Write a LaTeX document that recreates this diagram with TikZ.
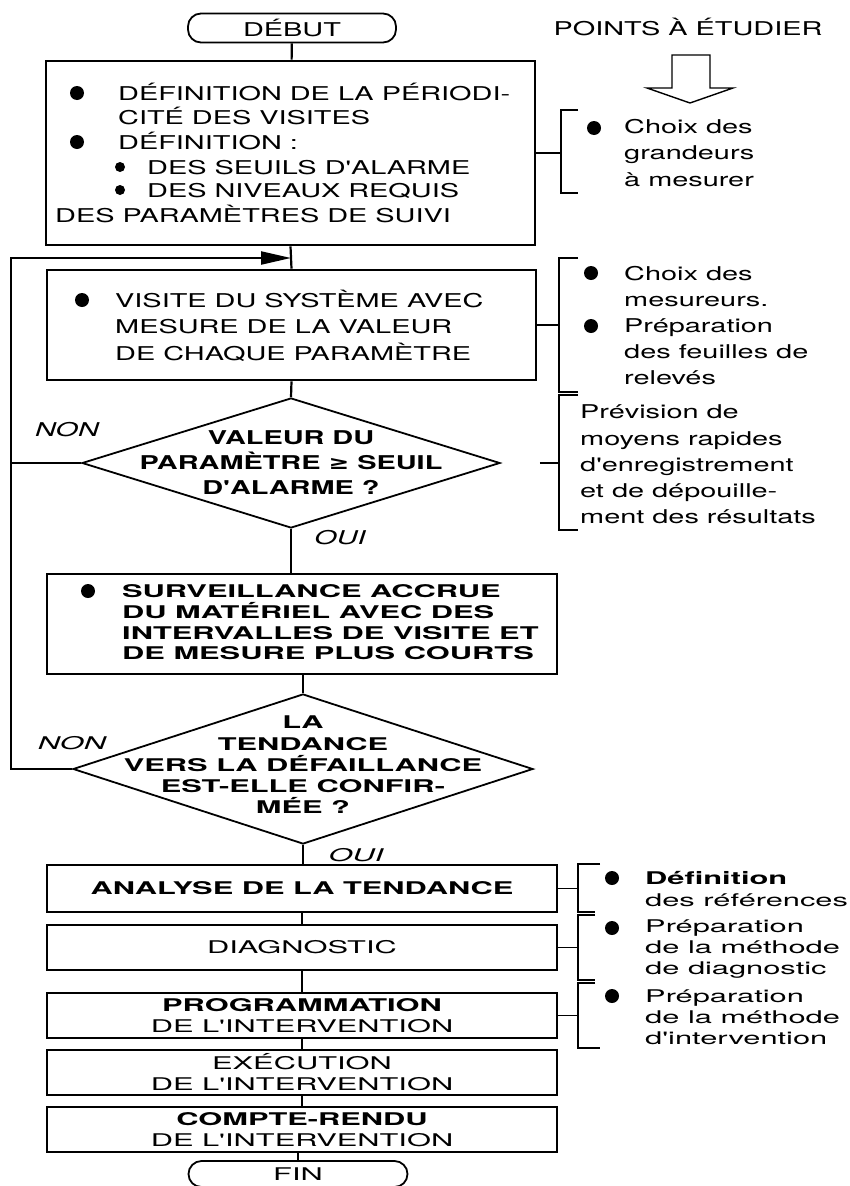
\documentclass[tikz,border=0pt]{standalone}
\usepackage{fontspec}
\usepackage{tikz}
\newfontfamily\topfont{TeX Gyre Heros}[FakeStretch=1.52]
\newfontfamily\lowfont{TeX Gyre Heros}[FakeStretch=1.76]
\newfontfamily\geqfont{DejaVu Sans}[FakeStretch=1.3]
\newcommand\toptxt{\topfont\fontsize{19}{25}\selectfont}
\newcommand\sidetxt{\topfont\fontsize{19}{26.2}\selectfont}
\newcommand\lowtxt{\lowfont\fontsize{17.5}{21.2}\selectfont}
\usetikzlibrary{shapes.geometric,arrows.meta}
\tikzset{
	box/.style={draw, line width=2.6pt, inner sep=0pt},
	decision/.style={diamond, draw, line width=1.8pt, inner sep=0pt},
	terminal/.style={draw, line width=1.8pt, rounded corners=13pt, inner sep=0pt},
	link/.style={line width=2.2pt},
	brace/.style={line width=1.3pt},
}

\begin{document}
\begin{tikzpicture}[x=1pt,y=-1pt]
	\useasboundingbox (0,0) rectangle (849,1186);

	\node[terminal, minimum width=208pt, minimum height=29pt, font=\toptxt] (debut) at (292,28) {DÉBUT};
	\node[anchor=base, font=\toptxt] (points) at (688,35) {POINTS À ÉTUDIER};
	% hollow arrow under the heading
	\draw[line width=1.4pt] (672,55) -- (710,55) -- (710,88) -- (733,88) -- (690,103) -- (647,88) -- (672,88) -- cycle;

	% first box
	\node[box, minimum width=489pt, minimum height=184pt] (def) at (290.5,153) {};
	\foreach \x/\y/\t[count=\j] in {118/100/{DÉFINITION DE LA PÉRIODI-},118/124/{CITÉ DES VISITES},118/149/{DÉFINITION :},147/174/{DES SEUILS D'ALARME},147/197/{DES NIVEAUX REQUIS},55/222/{DES PARAMÈTRES DE SUIVI}}
	{
		\node[anchor=base west, inner sep=0pt, font=\toptxt] (def-\j) at (\x,\y) {\t};
	}
	\foreach \y in {93,142}
		\fill (77,\y) circle[radius=7pt];
	\foreach \y in {167,190}
		\fill (120,\y) circle[radius=5pt];

	% visit box
	\node[box, minimum width=489pt, minimum height=110pt] (visite) at (291.5,325) {};
	\fill (82,300) circle[radius=7pt];
	\foreach \y/\t[count=\j] in {307/{VISITE DU SYSTÈME AVEC},333/{MESURE DE LA VALEUR},360/{DE CHAQUE PARAMÈTRE}}
	{
		\node[anchor=base west, inner sep=0pt, font=\toptxt] (visite-\j) at (115,\y) {\t};
	}

	% first test
	\node[decision, minimum width=418pt, minimum height=130pt] (valeur) at (291,463) {};
	\node[align=center, font=\toptxt\bfseries] (valeur-txt) at (291,463) {VALEUR DU\\PARAMÈTRE {\geqfont ≥} SEUIL\\D'ALARME ?};
	\node[font=\toptxt\itshape] (non1) at (67,430) {NON};
	\node[font=\toptxt\itshape] (oui1) at (340,538) {OUI};

	% closer watch
	\node[box, minimum width=510pt, minimum height=100pt] (surv) at (302,624) {};
	\fill (88,591) circle[radius=7pt];
	\foreach \y/\t[count=\j] in {597/{SURVEILLANCE ACCRUE},618/{DU MATÉRIEL AVEC DES},639/{INTERVALLES DE VISITE ET},659/{DE MESURE PLUS COURTS}}
	{
		\node[anchor=base west, inner sep=0pt, font=\lowtxt\bfseries] (surv-\j) at (122,\y) {\t};
	}

	% second test
	\node[decision, minimum width=460pt, minimum height=150pt] (tend) at (303,769) {};
	\node[align=center, font=\lowtxt\bfseries] (tend-txt) at (303,765) {LA\\TENDANCE\\VERS LA DÉFAILLANCE\\EST-ELLE CONFIR-\\MÉE ?};
	\node[font=\lowtxt\itshape] (non2) at (72,743) {NON};
	\node[font=\lowtxt\itshape] (oui2) at (356,855) {OUI};

	% last steps
	\node[box, minimum width=510pt, minimum height=47pt, font=\lowtxt\bfseries] (anal) at (302,888.5) {ANALYSE DE LA TENDANCE};
	\node[box, minimum width=510pt, minimum height=45pt, font=\lowtxt] (diag) at (302,947.5) {DIAGNOSTIC};
	\node[box, minimum width=510pt, minimum height=45pt, font=\lowtxt, align=center] (prog) at (302,1015.5) {{\bfseries PROGRAMMATION}\\DE L'INTERVENTION};
	\node[box, minimum width=510pt, minimum height=45pt, font=\lowtxt, align=center] (exec) at (302,1072.5) {EXÉCUTION\\DE L'INTERVENTION};
	\node[box, minimum width=510pt, minimum height=45pt, font=\lowtxt, align=center] (cr) at (302,1129.5) {{\bfseries COMPTE-RENDU}\\DE L'INTERVENTION};
	\node[terminal, minimum width=219pt, minimum height=26pt, font=\lowtxt] (fin) at (298,1174) {FIN};

	% flow
	\coordinate (join) at (291,258);
	\draw[link] (debut) -- (def);
	\draw[link] (def.south) -- (visite.north);
	\draw[link] (visite.south) -- (valeur.north);
	\draw[link] (valeur.south) -- (valeur.south |- surv.north);
	\draw[link] (surv.south -| tend.north) -- (tend.north);
	\draw[link] (tend.south) -- (tend.south |- anal.north);
	\draw[link] (anal) -- (diag);
	\draw[link] (diag) -- (prog);
	\draw[link] (prog) -- (exec);
	\draw[link] (exec) -- (cr);
	\draw[link] (cr.south -| fin.north) -- (fin.north);
	\draw[link, -{Triangle[length=30pt,width=13pt]}] (tend.west) -- ++(-61,0) |- (join);
	\draw[link] (valeur.west) -- ++(-70,0);

	% points to study, top part
	\coordinate (b1) at (561,153);
	\coordinate (b2) at (559,325);
	\coordinate (b3) at (559,463);
	\draw[brace] (578,110) -- (561,110) -- (561,193) -- (578,193);
	\draw[brace] (578,258) -- (559,258) -- (559,392) -- (578,392);
	\draw[brace] (578,395) -- (559,395) -- (559,530) -- (578,530);
	\draw[brace] (def.east) -- (b1);
	\draw[brace] (visite.east) -- (b2);
	\draw[brace, shorten <=39pt] (valeur.east) -- (b3);
	\foreach \x/\y in {594/128,591/273,591/326}
		\fill (\x,\y) circle[radius=7pt];
	\node[anchor=west, align=left, inner sep=0pt, font=\sidetxt] (choix) at (624,153) {Choix des\\grandeurs\\à mesurer};
	\node[anchor=west, align=left, inner sep=0pt, font=\sidetxt] (mesureurs) at (624,325.5) {Choix des\\mesureurs.\\Préparation\\des feuilles de\\relevés};
	\node[anchor=west, align=left, inner sep=0pt, font=\sidetxt] (prevision) at (580,464.5) {Prévision de\\moyens rapides\\d'enregistrement\\et de dépouille-\\ment des résultats};

	% points to study, bottom part
	\draw[brace] (600,864) -- (578,864) -- (578,912) -- (595,912);
	\draw[brace] (595,915) -- (578,915) -- (578,980) -- (595,980);
	\draw[brace] (595,983) -- (578,983) -- (578,1048) -- (600,1048);
	\draw[brace] (anal.east) -- (anal.east -| 578,0);
	\draw[brace] (diag.east) -- (diag.east -| 578,0);
	\draw[brace] (prog.east) -- (prog.east -| 578,0);
	\foreach \y in {878,928,996}
		\fill (612,\y) circle[radius=7pt];
	\node[anchor=west, align=left, inner sep=0pt, font=\lowtxt] (refs) at (645,889) {{\bfseries Définition}\\des références};
	\node[anchor=west, align=left, inner sep=0pt, font=\lowtxt] (prepdiag) at (645,949) {Préparation\\de la méthode\\de diagnostic};
	\node[anchor=west, align=left, inner sep=0pt, font=\lowtxt] (prepint) at (645,1017) {Préparation\\de la méthode\\d'intervention};
\end{tikzpicture}
\end{document}
